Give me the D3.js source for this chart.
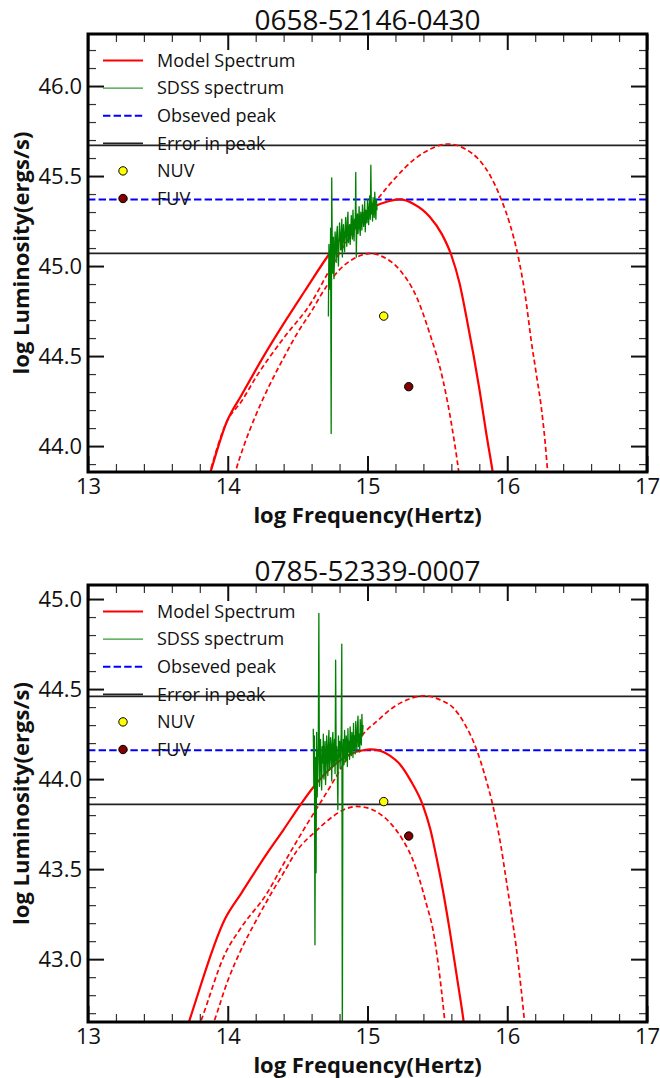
<!DOCTYPE html>
<html><head><meta charset="utf-8">
<script src="https://cdn.jsdelivr.net/npm/d3@7"></script>
<style>body{margin:0;background:#fff}</style>
</head><body><svg id="c" width="660" height="1078"></svg>
<script>
// ---------- data ----------
const titles = ["0658-52146-0430", "0785-52339-0007"];
const xTickValues = [13, 14, 15, 16, 17];
const yTicksTop = [44.0, 44.5, 45.0, 45.5, 46.0];
const yTicksBot = [43.0, 43.5, 44.0, 44.5, 45.0];
const yDomainTop = [43.856, 46.289];
const yDomainBot = [42.651, 45.078];
const legendLabels = ["Model Spectrum", "SDSS spectrum", "Obseved peak", "Error in peak", "NUV", "FUV"];

// observed peak and error band (log L)
const peakTop = 45.37, errLoTop = 45.07, errHiTop = 45.67;
const peakBot = 44.16, errLoBot = 43.86, errHiBot = 44.46;

// UV photometry [log nu, log L]
const nuvTop = [15.116, 44.722], fuvTop = [15.295, 44.33];
const nuvBot = [15.116, 43.875], fuvBot = [15.295, 43.684];

// model spectra [log nu, log L]
const modelTop = [[13.85,43.79],[13.874,43.85],[13.993,44.135],[14.1,44.285],[14.25,44.49],[14.4,44.68],[14.55,44.86],[14.72,45.06],[14.9,45.24],[15.05,45.33],[15.15,45.36],[15.23,45.37],[15.33,45.345],[15.445,45.274],[15.53,45.18],[15.6,45.06],[15.66,44.9],[15.707,44.72],[15.76,44.5],[15.802,44.31],[15.85,44.07],[15.897,43.85],[15.92,43.73]];
const upperTop = [[13.85,43.79],[13.993,44.135],[14.1,44.25],[14.2,44.38],[14.4,44.6],[14.6,44.8],[14.73,44.98],[14.87,45.16],[15.05,45.35],[15.2,45.49],[15.33,45.59],[15.45,45.65],[15.576,45.678],[15.7,45.65],[15.8,45.589],[15.88,45.5],[15.957,45.37],[16.02,45.23],[16.076,45.061],[16.13,44.83],[16.171,44.589],[16.21,44.39],[16.243,44.218],[16.27,44.03],[16.29,43.85],[16.31,43.7]];
const lowerTop = [[14.03,43.79],[14.052,43.85],[14.11,43.99],[14.2,44.17],[14.3,44.34],[14.4,44.49],[14.5,44.63],[14.6,44.75],[14.7,44.88],[14.8,44.98],[14.9,45.04],[15.03,45.07],[15.1,45.055],[15.231,44.978],[15.35,44.83],[15.445,44.626],[15.54,44.367],[15.6,44.126],[15.654,43.85],[15.67,43.75]];

const modelBot = [[13.70,42.60],[13.719,42.644],[13.981,43.225],[14.1,43.37],[14.279,43.585],[14.4,43.72],[14.516,43.853],[14.612,43.955],[14.75,44.07],[14.88,44.14],[14.969,44.16],[15.02,44.165],[15.088,44.158],[15.16,44.13],[15.23,44.084],[15.31,43.99],[15.397,43.853],[15.45,43.72],[15.493,43.567],[15.54,43.38],[15.588,43.161],[15.64,42.9],[15.688,42.653],[15.70,42.58]];
const upperBot = [[13.79,42.62],[13.802,42.644],[13.981,43.03],[14.1,43.18],[14.279,43.364],[14.4,43.53],[14.54,43.715],[14.731,43.955],[14.85,44.11],[14.969,44.25],[15.08,44.33],[15.183,44.398],[15.3,44.445],[15.409,44.463],[15.52,44.44],[15.611,44.398],[15.7,44.3],[15.779,44.167],[15.84,44.02],[15.897,43.853],[15.95,43.65],[15.993,43.438],[16.03,43.25],[16.064,43.068],[16.1,42.83],[16.124,42.653],[16.135,42.58]];
const lowerBot = [[13.885,42.62],[13.897,42.644],[14.0,42.88],[14.1,43.06],[14.2,43.21],[14.3,43.35],[14.4,43.48],[14.493,43.60],[14.636,43.715],[14.731,43.78],[14.83,43.83],[14.921,43.848],[15.0,43.84],[15.088,43.807],[15.17,43.75],[15.254,43.66],[15.32,43.56],[15.374,43.438],[15.42,43.31],[15.469,43.161],[15.51,42.95],[15.552,42.662],[15.56,42.6]];

// SDSS spectra
const specNuTop = [14.720,14.724,14.728,14.732,14.736,14.740,14.744,14.748,14.752,14.756,14.760,14.764,14.768,14.772,14.776,14.780,14.784,14.788,14.792,14.796,14.800,14.804,14.808,14.812,14.816,14.820,14.824,14.828,14.832,14.836,14.840,14.844,14.848,14.852,14.856,14.860,14.864,14.868,14.872,14.876,14.880,14.884,14.888,14.892,14.896,14.900,14.904,14.908,14.912,14.916,14.920,14.924,14.928,14.932,14.936,14.940,14.944,14.948,14.952,14.956,14.960,14.964,14.968,14.972,14.976,14.980,14.984,14.988,14.992,14.996,15.000,15.004,15.008,15.012,15.016,15.020,15.024,15.028,15.032,15.036,15.040,15.044,15.048,15.052,15.056,15.060,15.064,15.068];
const specLTop = [44.72,45.12,44.98,44.87,45.21,44.07,45.49,45.10,44.96,45.16,
 44.93,45.05,45.19,45.13,45.02,45.18,45.22,45.07,45.00,45.15,
 45.24,45.19,45.09,45.12,45.26,45.05,45.17,45.23,45.14,45.08,
 45.20,45.27,45.16,45.11,45.25,45.30,45.13,45.19,45.23,45.12,
 45.18,45.28,45.22,45.15,45.31,45.20,45.14,45.26,45.21,45.52,
 45.05,45.24,45.29,45.18,45.23,45.33,45.21,45.17,45.30,45.26,
 45.20,45.34,45.28,45.22,45.25,45.36,45.19,45.31,45.27,45.24,
 45.37,45.30,45.23,45.33,45.39,45.26,45.56,45.29,45.35,45.25,
 45.38,45.31,45.27,45.41,45.33,45.26,45.37,45.31];
const specNuBot = [14.612,14.616,14.620,14.624,14.628,14.632,14.636,14.640,14.644,14.648,14.652,14.656,14.660,14.664,14.668,14.672,14.676,14.680,14.684,14.688,14.692,14.696,14.700,14.704,14.708,14.712,14.716,14.720,14.724,14.728,14.732,14.736,14.740,14.744,14.748,14.752,14.756,14.760,14.764,14.768,14.772,14.776,14.780,14.784,14.788,14.792,14.796,14.800,14.804,14.808,14.812,14.816,14.820,14.824,14.828,14.832,14.836,14.840,14.844,14.848,14.852,14.856,14.860,14.864,14.868,14.872,14.876,14.880,14.884,14.888,14.892,14.896,14.900,14.904,14.908,14.912,14.916,14.920,14.924,14.928,14.932,14.936,14.940,14.944,14.948,14.952,14.956,14.960,14.964,14.968];
const specLBot = [44.28,43.95,44.24,43.08,44.12,43.48,44.26,43.90,44.06,44.19,
 44.92,43.96,44.14,44.22,44.01,43.94,44.18,44.09,44.25,44.00,
 44.13,44.21,43.97,44.08,44.24,44.15,44.02,44.19,44.27,44.05,
 44.11,44.23,44.16,43.99,44.20,44.26,44.07,44.14,44.22,44.03,
 44.66,44.10,44.18,44.05,43.83,44.24,44.12,44.21,44.06,44.17,
 44.25,44.75,42.50,44.13,44.22,44.08,44.27,44.16,44.10,44.24,
 44.19,44.07,44.28,44.15,44.21,44.11,44.29,44.18,44.13,44.26,
 44.20,44.12,44.31,44.17,44.24,44.14,44.32,44.21,44.16,44.29,
 44.35,44.18,44.25,44.15,44.33,44.22,44.19,44.36,44.24,44.30];

// ---------- layout / style ----------
const FONT = "'Open Sans', 'DejaVu Sans', sans-serif";
const L = 88, R = 647;
const panels = [
  {title: titles[0], top: 34, bottom: 472, yDomain: yDomainTop, yTicks: yTicksTop,
   peak: peakTop, errLo: errLoTop, errHi: errHiTop, nuv: nuvTop, fuv: fuvTop,
   model: modelTop, upper: upperTop, lower: lowerTop, specNu: specNuTop, specL: specLTop},
  {title: titles[1], top: 585, bottom: 1022, yDomain: yDomainBot, yTicks: yTicksBot,
   peak: peakBot, errLo: errLoBot, errHi: errHiBot, nuv: nuvBot, fuv: fuvBot,
   model: modelBot, upper: upperBot, lower: lowerBot, specNu: specNuBot, specL: specLBot}
];

const svg = d3.select("#c");
const x = d3.scaleLinear().domain([13, 17]).range([L, R]);

function range(a, b, s) { const out = []; for (let v = a; v <= b + 1e-9; v += s) out.push(+v.toFixed(3)); return out; }

panels.forEach((p, i) => {
  const y = d3.scaleLinear().domain(p.yDomain).range([p.bottom, p.top]);
  const g = svg.append("g");
  const cid = "clip" + i;
  svg.append("clipPath").attr("id", cid).append("rect")
    .attr("x", L).attr("y", p.top).attr("width", R - L).attr("height", p.bottom - p.top);
  const plot = g.append("g").attr("clip-path", `url(#${cid})`);

  const line = d3.line().x(d => x(d[0])).y(d => y(d[1]));
  const smooth = d3.line().x(d => x(d[0])).y(d => y(d[1])).curve(d3.curveMonotoneX);

  // error lines
  [p.errHi, p.errLo].forEach(v => {
    plot.append("line").attr("x1", L).attr("x2", R).attr("y1", y(v)).attr("y2", y(v))
      .attr("stroke", "#222").attr("stroke-width", 1.8);
  });
  // observed peak
  plot.append("line").attr("x1", L).attr("x2", R).attr("y1", y(p.peak)).attr("y2", y(p.peak))
    .attr("stroke", "#0000ff").attr("stroke-width", 2).attr("stroke-dasharray", "7.4,3.2");

  // model curves
  plot.append("path").datum(p.upper).attr("d", smooth).attr("fill", "none")
    .attr("stroke", "#ff0000").attr("stroke-width", 1.7).attr("stroke-dasharray", "5,3");
  plot.append("path").datum(p.lower).attr("d", smooth).attr("fill", "none")
    .attr("stroke", "#ff0000").attr("stroke-width", 1.7).attr("stroke-dasharray", "5,3");
  plot.append("path").datum(p.model).attr("d", smooth).attr("fill", "none")
    .attr("stroke", "#ff0000").attr("stroke-width", 2.2);

  // SDSS spectrum
  const spec = p.specNu.map((n, k) => [n, p.specL[k]]);
  plot.append("path").datum(spec).attr("d", line).attr("fill", "none")
    .attr("stroke", "#008000").attr("stroke-width", 1.3).attr("stroke-linejoin", "round");

  // UV points
  [[p.nuv, "#ffff00"], [p.fuv, "#800000"]].forEach(([pt, c]) => {
    plot.append("circle").attr("cx", x(pt[0])).attr("cy", y(pt[1])).attr("r", 4.2)
      .attr("fill", c).attr("stroke", "#000").attr("stroke-width", 1);
  });

  // axes (ticks inward)
  const styleAxis = (sel, w, col) => {
    sel.select(".domain").remove();
    sel.selectAll(".tick line").attr("stroke", col).attr("stroke-width", w);
    sel.selectAll("text").attr("font-family", FONT).attr("font-size", 22).attr("fill", "#111");
  };
  const minorX = range(13, 17, 0.2).filter(v => Math.abs(v - Math.round(v)) > 1e-6);
  const yMinAll = range(Math.ceil(p.yDomain[0] * 10) / 10, p.yDomain[1], 0.1)
    .filter(v => Math.abs(v * 2 - Math.round(v * 2)) > 1e-6);

  // bottom
  g.append("g").attr("transform", `translate(0,${p.bottom})`)
    .call(d3.axisBottom(x).tickValues(minorX).tickSize(-8).tickFormat(""))
    .call(s => styleAxis(s, 1.2, "#333"));
  g.append("g").attr("transform", `translate(0,${p.bottom})`)
    .call(d3.axisBottom(x).tickValues(xTickValues).tickSize(-16).tickPadding(6).tickFormat(d3.format("d")))
    .call(s => styleAxis(s, 2, "#111"));
  // top
  g.append("g").attr("transform", `translate(0,${p.top})`)
    .call(d3.axisTop(x).tickValues(minorX).tickSize(-8).tickFormat(""))
    .call(s => styleAxis(s, 1.2, "#333"));
  g.append("g").attr("transform", `translate(0,${p.top})`)
    .call(d3.axisTop(x).tickValues(xTickValues).tickSize(-16).tickFormat(""))
    .call(s => styleAxis(s, 2, "#111"));
  // left
  g.append("g").attr("transform", `translate(${L},0)`)
    .call(d3.axisLeft(y).tickValues(yMinAll).tickSize(-8).tickFormat(""))
    .call(s => styleAxis(s, 1.2, "#333"));
  g.append("g").attr("transform", `translate(${L},0)`)
    .call(d3.axisLeft(y).tickValues(p.yTicks).tickSize(-16).tickPadding(6).tickFormat(d3.format(".1f")))
    .call(s => styleAxis(s, 2, "#111"));
  // right
  g.append("g").attr("transform", `translate(${R},0)`)
    .call(d3.axisRight(y).tickValues(yMinAll).tickSize(-8).tickFormat(""))
    .call(s => styleAxis(s, 1.2, "#333"));
  g.append("g").attr("transform", `translate(${R},0)`)
    .call(d3.axisRight(y).tickValues(p.yTicks).tickSize(-16).tickFormat(""))
    .call(s => styleAxis(s, 2, "#111"));

  // frame
  g.append("rect").attr("x", L).attr("y", p.top).attr("width", R - L).attr("height", p.bottom - p.top)
    .attr("fill", "none").attr("stroke", "#000").attr("stroke-width", 3);

  // title
  g.append("text").attr("x", (L + R) / 2).attr("y", p.top - 4).attr("text-anchor", "middle")
    .attr("font-family", FONT).attr("font-size", 28).attr("fill", "#111").text(p.title);
  // axis labels
  g.append("text").attr("x", (L + R) / 2).attr("y", p.bottom + 51).attr("text-anchor", "middle")
    .attr("font-family", FONT).attr("font-weight", "bold").attr("font-size", 22).attr("fill", "#111")
    .text("log Frequency(Hertz)");
  g.append("text").attr("transform", `translate(29,${(p.top + p.bottom) / 2}) rotate(-90)`)
    .attr("text-anchor", "middle")
    .attr("font-family", FONT).attr("font-weight", "bold").attr("font-size", 22).attr("fill", "#111")
    .text("log Luminosity(ergs/s)");

  // legend
  const lg = g.append("g");
  legendLabels.forEach((lab, k) => {
    const yy = p.top + 26.5 + 27.6 * k;
    if (k === 0) lg.append("line").attr("x1", 103).attr("x2", 143).attr("y1", yy).attr("y2", yy).attr("stroke", "#ff0000").attr("stroke-width", 2.2);
    if (k === 1) lg.append("line").attr("x1", 103).attr("x2", 143).attr("y1", yy).attr("y2", yy).attr("stroke", "#008000").attr("stroke-width", 1);
    if (k === 2) lg.append("line").attr("x1", 103).attr("x2", 143).attr("y1", yy).attr("y2", yy).attr("stroke", "#0000ff").attr("stroke-width", 2).attr("stroke-dasharray", "7.4,3.2");
    if (k === 3) lg.append("line").attr("x1", 103).attr("x2", 143).attr("y1", yy).attr("y2", yy).attr("stroke", "#222").attr("stroke-width", 1.8);
    if (k === 4) lg.append("circle").attr("cx", 123).attr("cy", yy).attr("r", 4.2).attr("fill", "#ffff00").attr("stroke", "#000").attr("stroke-width", 1);
    if (k === 5) lg.append("circle").attr("cx", 123).attr("cy", yy).attr("r", 4.2).attr("fill", "#800000").attr("stroke", "#000").attr("stroke-width", 1);
    lg.append("text").attr("x", 157).attr("y", yy).attr("dy", "0.35em")
      .attr("font-family", FONT).attr("font-size", 18).attr("fill", "#111").text(lab);
  });
});
</script></body></html>
